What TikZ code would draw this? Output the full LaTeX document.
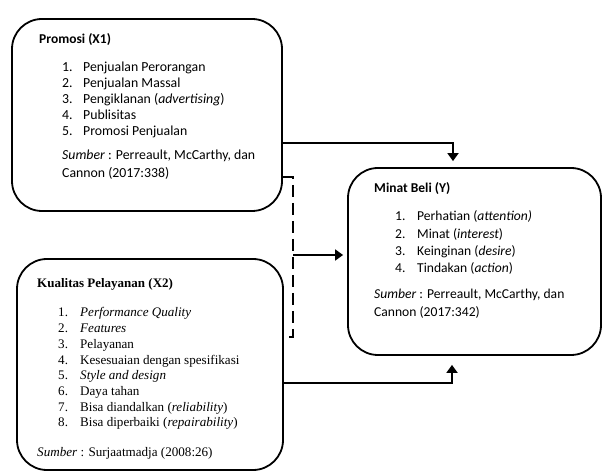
\documentclass[tikz,border=0pt]{standalone}
\usepackage{fontspec}
\setmainfont{Carlito}
\newfontfamily\serifb{Liberation Serif}
\usetikzlibrary{arrows.meta}
\newcommand{\itm}[2]{\makebox[#1][l]{#2}}
\tikzset{
  box/.style={draw=black, line width=1.8pt, rounded corners=30pt, inner sep=0pt},
  conn/.style={draw=black, line width=1.8pt},
  arr/.style={conn, -{Triangle[width=11pt,length=8pt]}},
  dashconn/.style={conn, dash pattern=on 12pt off 6pt},
  txt/.style={anchor=base west, inner sep=0pt, align=left, text=black},
}
\begin{document}
\begin{tikzpicture}[x=1pt,y=-1pt]
\useasboundingbox[fill=white] (0,0) rectangle (603,473);
% boxes
\node[box, minimum width=270pt, minimum height=192pt] (promo) at (147,115) {};
\node[box, minimum width=266pt, minimum height=211pt] (kual) at (150,364.5) {};
\node[box, minimum width=253pt, minimum height=187pt] (minat) at (474.5,261.5) {};
% box 1 text
\node[txt, font=\bfseries\fontsize{13.5}{16}\selectfont] (t1) at (39,44) {Promosi (X1)};
\node[txt, font=\fontsize{13.8}{15.8}\selectfont] (l1) at (62,72) {\begin{tabular}[t]{@{}l@{}}
\itm{21pt}{1.}Penjualan Perorangan\\
\itm{21pt}{2.}Penjualan Massal\\
\itm{21pt}{3.}Pengiklanan (\textit{advertising})\\
\itm{21pt}{4.}Publisitas\\
\itm{21pt}{5.}Promosi Penjualan
\end{tabular}};
\node[txt, font=\fontsize{13.8}{17.7}\selectfont] (s1) at (62,160) {\begin{tabular}[t]{@{}l@{}}
\textit{Sumber} : Perreault, McCarthy, dan\\
Cannon (2017:338)
\end{tabular}};
% box 2 text
\node[txt, font=\serifb\bfseries\fontsize{13}{16}\selectfont] (t2) at (37,288) {Kualitas Pelayanan (X2)};
\node[txt, font=\serifb\fontsize{13.1}{15.7}\selectfont] (l2) at (58,317) {\begin{tabular}[t]{@{}l@{}}
\itm{22pt}{1.}\textit{Performance Quality}\\
\itm{22pt}{2.}\textit{Features}\\
\itm{22pt}{3.}Pelayanan\\
\itm{22pt}{4.}Kesesuaian dengan spesifikasi\\
\itm{22pt}{5.}\textit{Style and design}\\
\itm{22pt}{6.}Daya tahan\\
\itm{22pt}{7.}Bisa diandalkan (\textit{reliability})\\
\itm{22pt}{8.}Bisa diperbaiki (\textit{repairability})
\end{tabular}};
\node[txt, font=\serifb\fontsize{13.1}{16}\selectfont] (s2) at (37,456) {\textit{Sumber} : Surjaatmadja (2008:26)};
% box 3 text
\node[txt, font=\bfseries\fontsize{13.5}{16}\selectfont] (t3) at (374,193) {Minat Beli (Y)};
\node[txt, font=\fontsize{13.6}{17.3}\selectfont] (l3) at (395,221) {\begin{tabular}[t]{@{}l@{}}
\itm{22pt}{1.}Perhatian (\textit{attention)}\\
\itm{22pt}{2.}Minat (\textit{interest})\\
\itm{22pt}{3.}Keinginan (\textit{desire})\\
\itm{22pt}{4.}Tindakan (\textit{action})
\end{tabular}};
\node[txt, font=\fontsize{13.6}{17.7}\selectfont] (s3) at (374,299) {\begin{tabular}[t]{@{}l@{}}
\textit{Sumber} : Perreault, McCarthy, dan\\
Cannon (2017:342)
\end{tabular}};
% connectors
\coordinate (c1) at (453,143);
\coordinate (d1) at (293,177);
\coordinate (d2) at (293,337);
\coordinate (m) at (293,255);
\coordinate (b1) at (452,383);
\draw[arr, shorten >=6pt] (promo.east |- c1) -- (c1) -- (minat.north -| c1);
\draw[dashconn] (promo.east |- d1) -- (d1) -- (d2) -- (kual.east |- d2);
\draw[arr, shorten >=4pt] (m) -- (minat.west |- m);
\draw[arr, shorten >=9pt] (kual.east |- b1) -- (b1) -- (minat.south -| b1);
\end{tikzpicture}
\end{document}
